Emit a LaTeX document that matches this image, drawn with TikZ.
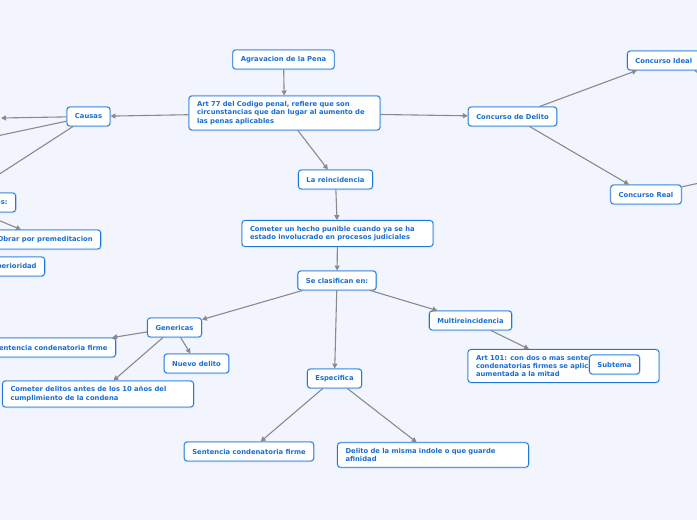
\documentclass[tikz,border=0pt]{standalone}
\usepackage{fontspec}
\setmainfont{DejaVu Sans}
\usetikzlibrary{arrows.meta}
\definecolor{mapbg}{HTML}{F2F5FE}
\definecolor{mapblue}{HTML}{1E78DC}
\definecolor{maptext}{HTML}{1A6ED2}
\definecolor{mapline}{HTML}{8A8A8A}
\hyphenpenalty=10000
\exhyphenpenalty=10000

\begin{document}
\begin{tikzpicture}[x=1pt, y=-1pt, >={Triangle[length=5pt,width=5pt]},
    topic/.style={draw=mapblue, fill=white, rounded corners=3pt, line width=0.8pt,
      text=maptext, font=\fontsize{6.8}{8.3}\selectfont\bfseries,
      inner xsep=8pt, inner ysep=0pt, minimum height=19pt,
      preaction={draw=mapblue!35, line width=2pt}},
    widetopic/.style={topic, text width=175pt, align=left, inner ysep=5.5pt},
    link/.style={draw=mapline, line width=1.1pt, ->}]
    \fill[mapbg] (0,0) rectangle (697,520);
    \useasboundingbox (0,0) rectangle (697,520);
    \clip (0,0) rectangle (697,520);

    % main branch
    \node[topic] (agrav) at (283.5, 59.5) {Agravacion de la Pena};
    \node[widetopic] (art77) at (284.5, 113) {Art 77 del Codigo penal, refiere que son circunstancias que dan lugar al aumento de las penas aplicables};
    \node[topic] (causas) at (88.5, 116.5) {Causas};
    \node[topic] (cdelito) at (512.5, 116.5) {Concurso de Delito};
    \node[topic, anchor=west] (cideal) at (627, 60.5) {Concurso Ideal};
    \node[topic] (creal) at (646, 194.5) {Concurso Real};
    \node[topic] (reinc) at (335.5, 179.5) {La reincidencia};
    \node[widetopic] (hecho) at (337.5, 233.5) {Cometer un hecho punible cuando ya se ha estado involucrado en procesos judiciales};
    \node[topic] (clasif) at (337, 280.5) {Se clasifican en:};

    % left side, cut by the page edge
    \node[topic, anchor=east] (circ) at (16, 202.5) {Circunstancias agravantes:};
    \node[topic, anchor=east] (obrar) at (101, 239.5) {Obrar por premeditacion};
    \node[topic, anchor=east] (superior) at (45, 266.5) {Abuso de superioridad};
    \coordinate (ca1) at (1, 118);
    \coordinate (ca2) at (-50, 146);
    \coordinate (ci1) at (730, 95);
    \coordinate (cr1) at (760, 170);

    % classification
    \node[topic] (generic) at (174.5, 327.5) {Genericas};
    \node[topic] (multi) at (470.5, 320.5) {Multireincidencia};
    \node[topic] (especif) at (334.5, 378.5) {Especifica};
    \node[topic, anchor=east] (sentA) at (116, 347.5) {Sentencia condenatoria firme};
    \node[topic] (nuevo) at (196.5, 363.5) {Nuevo delito};
    \node[widetopic] (delitos10) at (98, 394) {Cometer delitos antes de los 10 años del cumplimiento de la condena};
    \node[topic] (sentB) at (249, 451.5) {Sentencia condenatoria firme};
    \node[widetopic] (misma) at (433, 455) {Delito de la misma indole o que guarde afinidad};
    \node[widetopic] (art101) at (563.5, 366) {Art 101: con dos o mas sentencias condenatorias firmes se aplica la pena aumentada a la mitad};
    \node[topic] (subtema) at (614.5, 364.5) {Subtema};

    \draw[link] (agrav) -- (art77);
    \draw[link] (art77) -- (causas);
    \draw[link] (art77) -- (cdelito);
    \draw[link] (art77) -- (reinc);
    \draw[link] (causas) -- (ca1);
    \draw[link] (causas) -- (ca2);
    \draw[link] (causas) -- (circ);
    \draw[link] (circ) -- (obrar);
    \draw[link] (cdelito) -- (cideal);
    \draw[link] (cdelito) -- (creal);
    \draw[link] ([xshift=-6pt]cideal.south east) -- (ci1);
    \draw[link] (creal) -- (cr1);
    \draw[link] (reinc) -- (hecho);
    \draw[link] (hecho) -- (clasif);
    \draw[link] (clasif) -- (generic);
    \draw[link] (clasif) -- (especif);
    \draw[link] (clasif) -- (multi);
    \draw[link] (multi) -- (art101);
    \draw[link] (generic) -- (sentA);
    \draw[link] (generic) -- (nuevo);
    \draw[link] (generic) -- (delitos10);
    \draw[link] (especif) -- (sentB);
    \draw[link] (especif) -- (misma);
  \end{tikzpicture}
\end{document}
